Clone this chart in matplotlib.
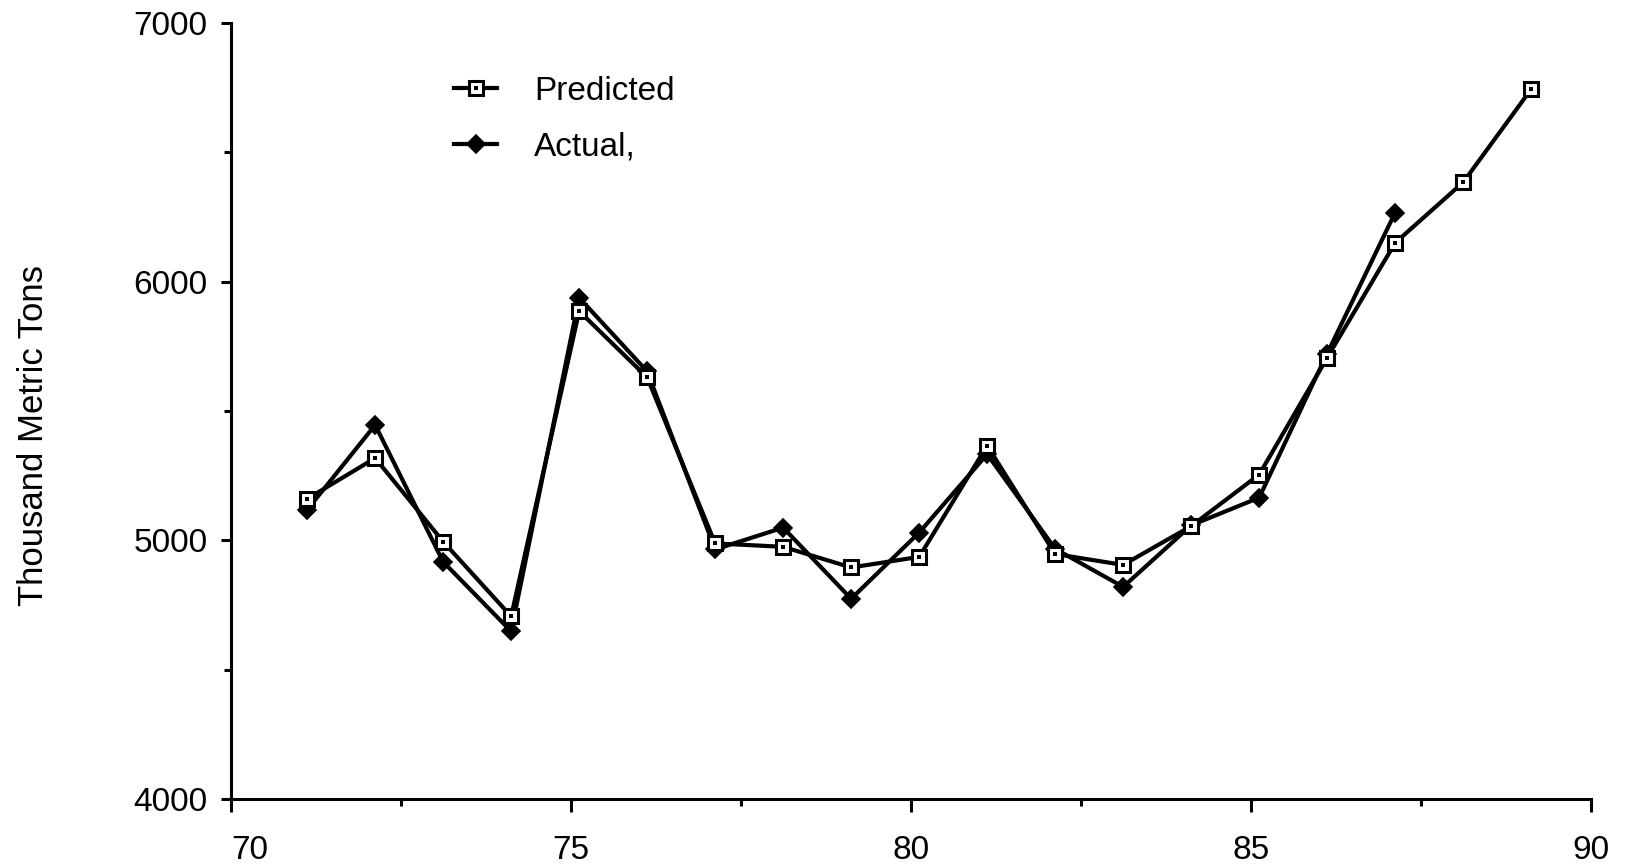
import matplotlib
matplotlib.use("Agg")
import matplotlib.pyplot as plt
from matplotlib.ticker import FixedLocator
from matplotlib.legend_handler import HandlerTuple

plt.rcParams['font.family'] = ['Liberation Sans', 'DejaVu Sans']

# Data (year on the x axis, values in thousand metric tons)
years_pred = [71.12, 72.12, 73.12, 74.12, 75.12, 76.12, 77.12, 78.12, 79.12, 80.12,
              81.12, 82.12, 83.12, 84.12, 85.12, 86.12, 87.12, 88.12, 89.12]
predicted = [5160, 5318, 4995, 4706, 5886, 5630, 4988, 4975, 4895, 4936,
             5366, 4947, 4905, 5055, 5254, 5706, 6150, 6384, 6744]
years_act = [71.12, 72.12, 73.12, 74.12, 75.12, 76.12, 77.12, 78.12, 79.12, 80.12,
             81.12, 82.12, 83.12, 84.12, 85.12, 86.12, 87.12]
actual = [5118, 5446, 4917, 4648, 5938, 5653, 4965, 5049, 4774, 5030,
          5333, 4967, 4820, 5058, 5165, 5722, 6267]

xticks = [70, 75, 80, 85, 90]
xticklabels = ["70", "75", "80", "85", "90"]
yticks = [4000, 5000, 6000, 7000]
yticklabels = ["4000", "5000", "6000", "7000"]

fig = plt.figure(figsize=(16.31, 8.67), dpi=100)
ax = fig.add_axes([231/1631, 1-799/867, (1591-231)/1631, (799-23)/867])

lw = 3.0
l_act, = ax.plot(years_act, actual, color='black', lw=lw, marker='D', ms=9.5,
                 mfc='black', mec='black', mew=1.2, zorder=3)
l_pred, = ax.plot(years_pred, predicted, color='black', lw=lw, marker='s', ms=9.5,
                  mfc='white', mec='black', mew=2.2, zorder=4)
d_pred, = ax.plot(years_pred, predicted, ls='none', marker='s', ms=2.4,
                  mfc='black', mec='black', mew=0, zorder=5)

ax.set_xlim(70, 90)
ax.set_ylim(4000, 7000)
ax.xaxis.set_major_locator(FixedLocator(xticks))
ax.set_xticklabels(xticklabels)
ax.xaxis.set_minor_locator(FixedLocator([72.5, 77.5, 82.5, 87.5]))
ax.yaxis.set_major_locator(FixedLocator(yticks))
ax.set_yticklabels(yticklabels)
ax.yaxis.set_minor_locator(FixedLocator([4500, 5500, 6500]))

for s in ['top', 'right']:
    ax.spines[s].set_visible(False)
for s in ['left', 'bottom']:
    ax.spines[s].set_linewidth(2.2)

ax.tick_params(axis='x', which='major', direction='out', length=9, width=2.2,
               labelsize=24, pad=17)
ax.tick_params(axis='x', which='minor', direction='out', length=5, width=2.2)
ax.tick_params(axis='y', which='major', direction='out', length=7, width=2.2,
               labelsize=24, pad=10)
ax.tick_params(axis='y', which='minor', direction='out', length=5, width=2.2)

xl = ax.get_xticklabels()
xl[0].set_horizontalalignment('left')

ax.set_ylabel("Thousand Metric Tons", fontsize=25)
ax.yaxis.set_label_coords(-0.133, 0.468)

leg = ax.legend([(l_pred, d_pred), l_act], ["Predicted", "Actual,"],
                handler_map={tuple: HandlerTuple(ndivide=1)},
                loc='upper left', bbox_to_anchor=(454/1631, 1-76/867),
                bbox_transform=fig.transFigure, frameon=False, fontsize=24,
                handlelength=1.3, handletextpad=1.1, labelspacing=0.75,
                borderpad=0, borderaxespad=0)

fig.savefig("out.png", dpi=100)
